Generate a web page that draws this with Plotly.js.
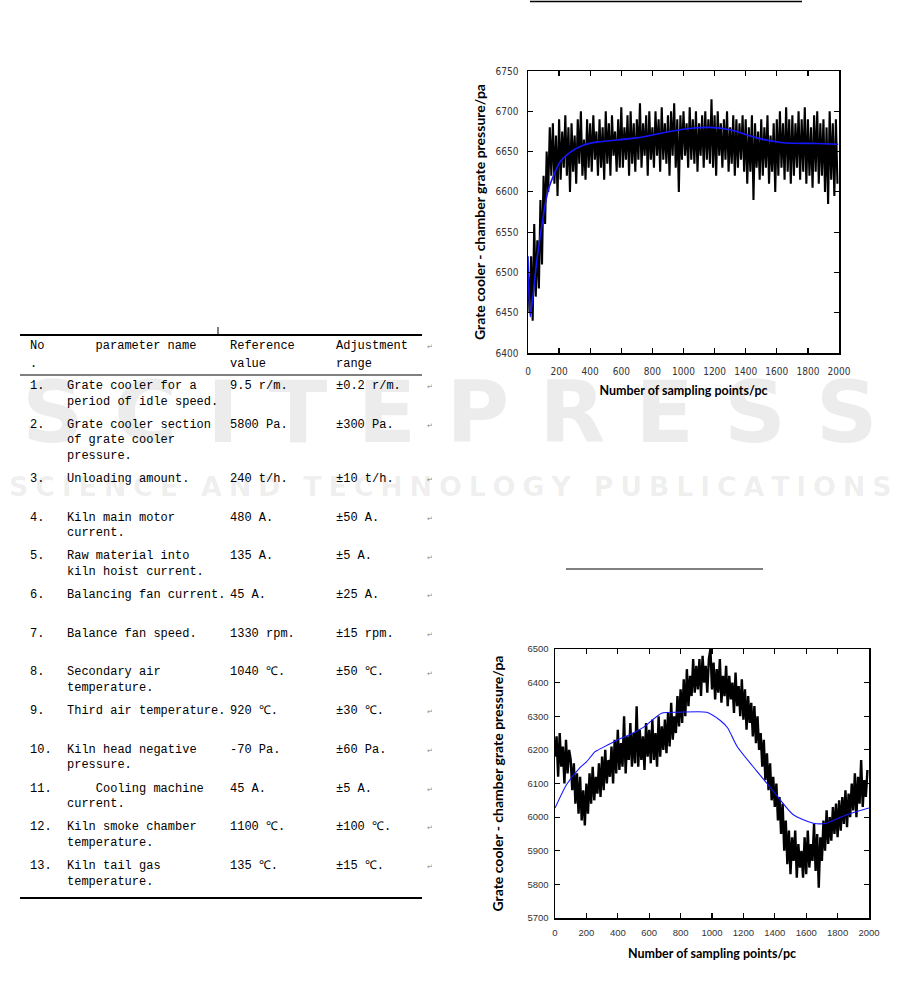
<!DOCTYPE html>
<html>
<head>
<meta charset="utf-8">
<script src="https://cdn.plot.ly/plotly-3.0.1.min.js"></script>
<style>
  html, body { margin: 0; padding: 0; background: #fff; }
  #page { width: 903px; height: 982px; }
</style>
</head>
<body>
<div id="page"></div>
<script>
// ---------------- Table data ----------------
const headerNo = "No<br>.";
const headerName = "parameter name";
const headerRef = "Reference<br>value";
const headerRange = "Adjustment<br>range";
const paramNo = ["1.", "2.", "3.", "4.", "5.", "6.", "7.", "8.", "9.", "10.", "11.", "12.", "13."];
const paramName = [
  "Grate cooler for a<br>period of idle speed.",
  "Grate cooler section<br>of grate cooler<br>pressure.",
  "Unloading amount.",
  "Kiln main motor<br>current.",
  "Raw material into<br>kiln hoist current.",
  "Balancing fan current.",
  "Balance fan speed.",
  "Secondary air<br>temperature.",
  "Third air temperature.",
  "Kiln head negative<br>pressure.",
  "\u00a0\u00a0\u00a0\u00a0Cooling machine<br>current.",
  "Kiln smoke chamber<br>temperature.",
  "Kiln tail gas<br>temperature."
];
const referenceValue = ["9.5 r/m.", "5800 Pa.", "240 t/h.", "480 A.", "135 A.", "45 A.", "1330 rpm.",
  "1040 ℃.", "920 ℃.", "-70 Pa.", "45 A.", "1100 ℃.", "135 ℃."];
const adjustmentRange = ["±0.2 r/m.", "±300 Pa.", "±10 t/h.", "±50 A.", "±5 A.", "±25 A.", "±15 rpm.",
  "±50 ℃.", "±30 ℃.", "±60 Pa.", "±5 A.", "±100 ℃.", "±15 ℃."];
const paragraphMark = "↵";

// ---------------- Chart 1 data (sample index step 10) ----------------
const chart1Step = 10;
const chart1Measured = [
  6500,6450,6520,6440,6560,6470,6540,6480,6590,6510,6620,6560,6650,
  6600,6680,6620,6685,6610,6670,6595,
  6690,6615,6675,6630,6695,6620,6680,6600,6685,6625,
  6670,6610,6690,6635,6700,6620,6665,6615,6690,6630,
  6685,6625,6695,6640,6675,6620,6690,6630,6680,6615,
  6700,6635,6685,6620,6695,6645,6675,6625,6690,6630,
  6705,6630,6680,6640,6695,6620,6700,6635,6685,6625,
  6690,6640,6710,6630,6685,6645,6695,6620,6700,6640,
  6680,6630,6700,6645,6690,6625,6705,6640,6685,6635,
  6695,6620,6700,6645,6710,6630,6690,6600,6695,6640,
  6700,6645,6685,6630,6705,6640,6690,6635,6700,6625,
  6685,6645,6695,6630,6700,6640,6690,6635,6715,6630,
  6695,6620,6700,6645,6685,6630,6690,6640,6700,6625,
  6680,6635,6695,6620,6690,6630,6685,6640,6695,6625,
  6690,6610,6680,6625,6695,6590,6685,6630,6675,6615,
  6690,6620,6680,6630,6695,6610,6670,6625,6685,6600,
  6690,6620,6700,6630,6685,6615,6705,6625,6690,6610,
  6695,6620,6685,6630,6700,6615,6690,6625,6705,6610,
  6690,6620,6680,6605,6695,6625,6700,6610,6685,6620,
  6690,6600,6680,6585,6700,6615,6685,6595,6690,6610
];
const chart1FitX = [0, 3, 15, 60, 131, 206, 270, 355, 450, 699, 913, 1050, 1170, 1299, 1470, 1640, 1857, 1995];
const chart1FitY = [6520, 6490, 6445, 6520, 6603, 6637, 6649, 6658, 6662, 6667, 6675, 6679, 6680, 6677, 6667, 6661, 6660, 6659];

// ---------------- Chart 2 data (sample index step 10) ----------------
const chart2Step = 10;
const chart2Measured = [
  6180,6240,6120,6250,6150,6210,6100,6230,6130,6200,
  6170,6080,6160,6040,6130,6010,6120,5990,6080,5975,
  6100,6010,6130,6040,6150,6050,6120,6070,6160,6060,
  6180,6080,6200,6100,6170,6120,6210,6100,6230,6130,
  6260,6140,6220,6150,6300,6130,6240,6170,6280,6150,
  6250,6160,6330,6150,6260,6170,6240,6140,6280,6180,
  6260,6160,6290,6170,6250,6150,6300,6180,6270,6200,
  6290,6190,6310,6210,6340,6230,6300,6250,6360,6270,
  6380,6280,6410,6300,6440,6330,6420,6360,6470,6370,
  6450,6380,6470,6360,6480,6400,6450,6370,6470,6500,
  6380,6460,6350,6440,6370,6470,6340,6420,6360,6450,
  6330,6420,6350,6400,6310,6430,6330,6390,6300,6410,
  6290,6380,6260,6360,6280,6340,6240,6330,6220,6300,
  6200,6250,6150,6230,6110,6190,6080,6160,6050,6120,
  6030,6100,5990,6060,5950,6040,5900,5990,5860,5960,
  5830,5940,5870,5960,5820,5920,5850,5900,5820,5940,
  5830,5960,5850,5920,5870,5980,5840,5950,5790,5940,
  5870,5990,5900,6020,5920,6000,5930,6030,5950,6040,
  5940,6050,5960,6060,5980,6080,5970,6070,6000,6100,
  6020,6130,6000,6120,6040,6170,6030,6110,6060,6140
];
const chart2FitX = [0, 74, 159, 202, 255, 276, 400, 478, 563, 679, 796, 966, 1051, 1100, 1160, 1285, 1391, 1518, 1645, 1730, 1858, 2000];
const chart2FitY = [6027, 6097, 6147, 6165, 6195, 6200, 6230, 6246, 6267, 6309, 6312, 6312, 6288, 6265, 6210, 6137, 6077, 6007, 5982, 5982, 6007, 6027];

const xTicks = [0, 200, 400, 600, 800, 1000, 1200, 1400, 1600, 1800, 2000];
const y1Ticks = [6400, 6450, 6500, 6550, 6600, 6650, 6700, 6750];
const y2Ticks = [5700, 5800, 5900, 6000, 6100, 6200, 6300, 6400, 6500];
const xTitle = "Number of sampling points/pc";
const yTitle = "Grate cooler - chamber grate pressure/pa";
const watermarkTop = "S C I T E P R E S S";
const watermarkBottom = "SCIENCE AND TECHNOLOGY PUBLICATIONS";

// ---------------- helpers / layout geometry ----------------
const W = 903, H = 982;
const px = v => v / W;
const py = v => 1 - v / H;
const chart1X = chart1Measured.map((_, i) => i * chart1Step);
const chart2X = chart2Measured.map((_, i) => i * chart2Step);
const mono = 'Liberation Mono, DejaVu Sans Mono, monospace';

// Table grid (table axis is in page pixels): column text starts, row tops derived from line counts
const colLeft = [30, 67, 230, 336, 427];
const nameCenter = 146;
const LINE = 15.5;
const headerTop = 340;
const headerLineGap = 18;
const firstRowTop = 380;
const lineCount = s => s.split('<br>').length;
const rowTops = [];
paramName.reduce((top, s) => { rowTops.push(top); return top + Math.max(2, lineCount(s)) * LINE + 7.7; }, firstRowTop);

function textTrace(xs, ys, texts, pos, font) {
  return { type: 'scatter', mode: 'text', x: xs, y: ys, text: texts, textposition: pos,
           textfont: font, xaxis: 'x3', yaxis: 'y3', showlegend: false, hoverinfo: 'skip', cliponaxis: false };
}
const cellFont = { family: mono, size: 12, color: '#000' };
const markFont = { family: 'DejaVu Sans, sans-serif', size: 7, color: '#888' };
const rowsX = c => paramNo.map(() => colLeft[c]);
const headerCols = [headerNo, headerRef, headerRange];
const headerColX = [colLeft[0], colLeft[2], colLeft[3]];
const headLine = k => headerCols.map(s => s.split('<br>')[k] || '');

const traces = [
  // table header (two lines each)
  textTrace(headerColX, headerColX.map(() => headerTop), headLine(0), 'bottom right', cellFont),
  textTrace(headerColX, headerColX.map(() => headerTop + headerLineGap), headLine(1), 'bottom right', cellFont),
  textTrace([nameCenter], [headerTop], [headerName], 'bottom center', cellFont),
  textTrace([colLeft[4]], [headerTop + 4], [paragraphMark], 'bottom right', markFont),
  // table body
  textTrace(rowsX(0), rowTops, paramNo, 'bottom right', cellFont),
  textTrace(rowsX(1), rowTops, paramName, 'bottom right', cellFont),
  textTrace(rowsX(2), rowTops, referenceValue, 'bottom right', cellFont),
  textTrace(rowsX(3), rowTops, adjustmentRange, 'bottom right', cellFont),
  textTrace(rowsX(4), rowTops.map(t => t + 4), paramNo.map(() => paragraphMark), 'bottom right', markFont),
  // chart 1
  {
    type: 'scatter', mode: 'lines', x: chart1X, y: chart1Measured,
    xaxis: 'x', yaxis: 'y', line: { color: '#000', width: 2.1 }, showlegend: false, hoverinfo: 'skip'
  },
  {
    type: 'scatter', mode: 'lines', x: chart1FitX, y: chart1FitY,
    xaxis: 'x', yaxis: 'y', line: { color: '#1515ff', width: 1.6, shape: 'spline', smoothing: 0.6 }, showlegend: false, hoverinfo: 'skip'
  },
  // chart 2
  {
    type: 'scatter', mode: 'lines', x: chart2X, y: chart2Measured,
    xaxis: 'x2', yaxis: 'y2', line: { color: '#000', width: 2.4 }, showlegend: false, hoverinfo: 'skip'
  },
  {
    type: 'scatter', mode: 'lines', x: chart2FitX, y: chart2FitY,
    xaxis: 'x2', yaxis: 'y2', line: { color: '#1515ff', width: 1.1, shape: 'spline', smoothing: 0.6 }, showlegend: false, hoverinfo: 'skip'
  }
];

const narrowTick = { family: 'Liberation Sans Narrow, DejaVu Sans Condensed, Arial Narrow, sans-serif', size: 10, color: '#333' };
const normalTick = { family: 'Liberation Sans, Arial, sans-serif', size: 9.5, color: '#333' };
const xTitleFont = { family: 'Lato, Open Sans, sans-serif', size: 12.5, color: '#000', weight: 'bold' };
const yTitleFont = { family: 'Lato, Open Sans, sans-serif', size: 14, color: '#000', weight: 'bold' };

function axisBase(extra) {
  return Object.assign({
    showline: true, linecolor: '#000', linewidth: 1.5, mirror: 'ticks',
    ticks: 'inside', ticklen: 5, tickwidth: 1.2, tickcolor: '#000',
    showgrid: false, zeroline: false, fixedrange: true
  }, extra);
}
const hiddenAxis = extra => Object.assign({ visible: false, showgrid: false, zeroline: false, fixedrange: true }, extra);

function rule(x0, x1, y0, y1, width) {
  return { type: 'line', xref: 'x3', yref: 'y3', x0: x0, x1: x1, y0: y0, y1: y1, line: { color: '#000', width: width } };
}
function pageLine(x0, x1, y, width) {
  return { type: 'line', xref: 'paper', yref: 'paper', x0: px(x0), x1: px(x1), y0: py(y), y1: py(y), line: { color: '#000', width: width } };
}

const wmColor = 'rgba(0,0,0,0.075)';
const layout = {
  width: W, height: H,
  margin: { l: 0, r: 0, t: 0, b: 0 },
  paper_bgcolor: '#fff', plot_bgcolor: 'rgba(0,0,0,0)',
  showlegend: false,
  xaxis: axisBase({
    domain: [px(528), px(839)], range: [0, 2000], anchor: 'y',
    tickvals: xTicks, tickfont: narrowTick, ticklabelstandoff: 8,
    title: { text: xTitle, font: xTitleFont, standoff: 10 }
  }),
  yaxis: axisBase({
    domain: [py(353), py(71)], range: [6400, 6750], anchor: 'x',
    tickvals: y1Ticks, tickfont: narrowTick, ticklabelstandoff: 6,
    title: { text: yTitle, font: yTitleFont, standoff: 6 }
  }),
  xaxis2: axisBase({
    domain: [px(555), px(869)], range: [0, 2000], anchor: 'y2',
    tickvals: xTicks, tickfont: normalTick, ticklabelstandoff: 5,
    title: { text: xTitle, font: xTitleFont, standoff: 12 }
  }),
  yaxis2: axisBase({
    domain: [py(918), py(649)], range: [5700, 6500], anchor: 'x2',
    tickvals: y2Ticks, tickfont: normalTick, ticklabelstandoff: 3,
    title: { text: yTitle, font: yTitleFont, standoff: 20 }
  }),
  // table canvas: axes measured in page pixels
  xaxis3: hiddenAxis({ domain: [px(10), px(450)], range: [10, 450], anchor: 'y3' }),
  yaxis3: hiddenAxis({ domain: [py(920), py(320)], range: [920, 320], anchor: 'x3' }),
  shapes: [
    pageLine(530, 802, 1.5, 1.5),
    pageLine(566, 763, 569, 1),
    rule(20, 422, 335, 335, 2),
    rule(20, 422, 375, 375, 1),
    rule(20, 422, 898, 898, 2),
    rule(218, 218, 327, 335, 1)
  ],
  annotations: [
    { xref: 'paper', yref: 'paper', x: px(450), y: py(412), xanchor: 'center', yanchor: 'middle', showarrow: false,
      text: watermarkTop, font: { family: 'DejaVu Sans, sans-serif', size: 86, color: wmColor, weight: 'bold' } },
    { xref: 'paper', yref: 'paper', x: px(450), y: py(487), xanchor: 'center', yanchor: 'middle', showarrow: false,
      text: watermarkBottom.split('').join('\u2005'), font: { family: 'DejaVu Sans, sans-serif', size: 27, color: wmColor, weight: 'bold' } }
  ]
};

Plotly.newPlot('page', traces, layout, { staticPlot: true, displayModeBar: false });
</script>
</body>
</html>
